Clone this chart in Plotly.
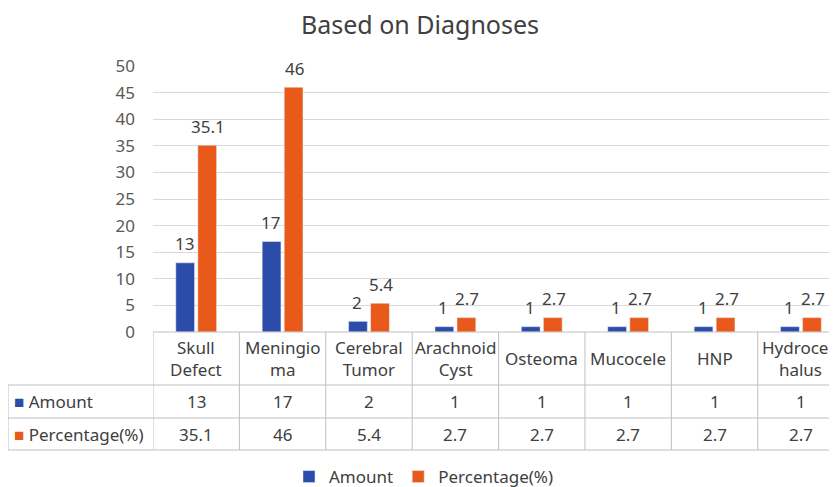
import plotly.graph_objects as go

categories = ["Skull Defect", "Meningioma", "Cerebral Tumor", "Arachnoid Cyst",
              "Osteoma", "Mucocele", "HNP", "Hydrocephalus"]
header_labels = ["Skull<br>Defect", "Meningio<br>ma", "Cerebral<br>Tumor", "Arachnoid<br>Cyst",
                 "Osteoma", "Mucocele", "HNP", "Hydrocep<br>halus"]
amount = [13, 17, 2, 1, 1, 1, 1, 1]
percentage = [35.1, 46, 5.4, 2.7, 2.7, 2.7, 2.7, 2.7]
y_ticks = [0, 5, 10, 15, 20, 25, 30, 35, 40, 45, 50]

BLUE = "#2B4CA9"
ORANGE = "#E8591A"
TXT = "#404040"
GRID = "#D9D9D9"
TLINE = "#BFBFBF"
FONT = "Noto Sans"
FS = 17

OFF = 8  # page body margin in the screenshot
W, H = 837, 487
L, T, B = 153 - OFF, 66 - OFF, H - (332 - OFF)
PH = H - T - B


def py(p):
    return (H - B - (p - OFF)) / PH


def px(p):
    return (p - OFF - L) / (W - L)


fig = go.Figure()
fig.add_trace(go.Bar(x=categories, y=amount, name="Amount", marker_color=BLUE,
                     cliponaxis=False))
fig.add_trace(go.Bar(x=categories, y=percentage, name="Percentage(%)", marker_color=ORANGE,
                     cliponaxis=False))

shapes = []
n = len(categories)
for i in range(n):
    shapes.append(dict(type="line", xref="x", yref="paper", x0=i - 0.5, x1=i - 0.5,
                       y0=0, y1=py(450), line=dict(color=TLINE, width=1)))
shapes.append(dict(type="line", xref="paper", yref="paper", x0=px(8), x1=px(8),
                   y0=py(385), y1=py(450), line=dict(color=TLINE, width=1)))
for yy in [385, 418, 450]:
    shapes.append(dict(type="line", xref="paper", yref="paper", x0=px(8), x1=1,
                       y0=py(yy), y1=py(yy), line=dict(color=TLINE, width=1)))
shapes.append(dict(type="line", xref="paper", yref="paper", x0=0, x1=1,
                   y0=0, y1=0, line=dict(color=TLINE, width=1)))

ann = []
for i in range(n):
    # data labels above bars
    ann.append(dict(x=categories[i], xref="x", xshift=-12, y=amount[i], yref="y", yshift=19,
                    text=str(amount[i]), showarrow=False,
                    font=dict(size=FS, color=TXT, family=FONT), xanchor="center", yanchor="middle"))
    ann.append(dict(x=categories[i], xref="x", xshift=12, y=percentage[i], yref="y", yshift=19,
                    text=str(percentage[i]), showarrow=False,
                    font=dict(size=FS, color=TXT, family=FONT), xanchor="center", yanchor="middle"))
    # table
    ann.append(dict(x=categories[i], xref="x", y=py(358), yref="paper", text=header_labels[i],
                    showarrow=False, font=dict(size=FS, color=TXT, family=FONT),
                    xanchor="center", yanchor="middle"))
    ann.append(dict(x=categories[i], xref="x", y=py(401), yref="paper", text=str(amount[i]),
                    showarrow=False, font=dict(size=FS, color=TXT, family=FONT),
                    xanchor="center", yanchor="middle"))
    ann.append(dict(x=categories[i], xref="x", y=py(434), yref="paper", text=str(percentage[i]),
                    showarrow=False, font=dict(size=FS, color=TXT, family=FONT),
                    xanchor="center", yanchor="middle"))
ann.append(dict(x=px(12), xref="paper", y=py(401), yref="paper",
                text=f"<span style='color:{BLUE}'>■</span> Amount",
                showarrow=False, font=dict(size=FS, color=TXT, family=FONT),
                xanchor="left", yanchor="middle"))
ann.append(dict(x=px(12), xref="paper", y=py(434), yref="paper",
                text=f"<span style='color:{ORANGE}'>■</span> Percentage(%)",
                showarrow=False, font=dict(size=FS, color=TXT, family=FONT),
                xanchor="left", yanchor="middle"))

fig.update_layout(
    width=W, height=H,
    margin=dict(l=L, r=0, t=T, b=B, autoexpand=False),
    paper_bgcolor="white", plot_bgcolor="white",
    font=dict(family=FONT, size=FS, color=TXT),
    title=dict(text="Based on Diagnoses", x=(420 - OFF) / W, xref="container", xanchor="center",
               y=1 - (25 - OFF) / H, yref="container", yanchor="middle",
               font=dict(size=25, color=TXT, family=FONT)),
    barmode="group", bargap=0.49, bargroupgap=0.15,
    showlegend=True,
    legend=dict(orientation="h", x=(424 - OFF) / W, xref="container", xanchor="center",
                y=1 - (477 - OFF) / H, yref="container", yanchor="middle", itemwidth=30,
                font=dict(size=FS, color=TXT), bgcolor="rgba(0,0,0,0)"),
    shapes=shapes, annotations=ann,
    xaxis=dict(type="category", range=[-0.5, n - 0.5 + 0.01], showticklabels=False,
               showgrid=False, zeroline=False, showline=False, ticks="", automargin=False),
    yaxis=dict(range=[0, 50], tickvals=y_ticks, showgrid=True, gridcolor=GRID, gridwidth=1,
               zeroline=False, showline=False, ticks="", automargin=False,
               tickfont=dict(size=FS, color="#595959"), ticklabelstandoff=17),
)

fig.write_html("out.html")
